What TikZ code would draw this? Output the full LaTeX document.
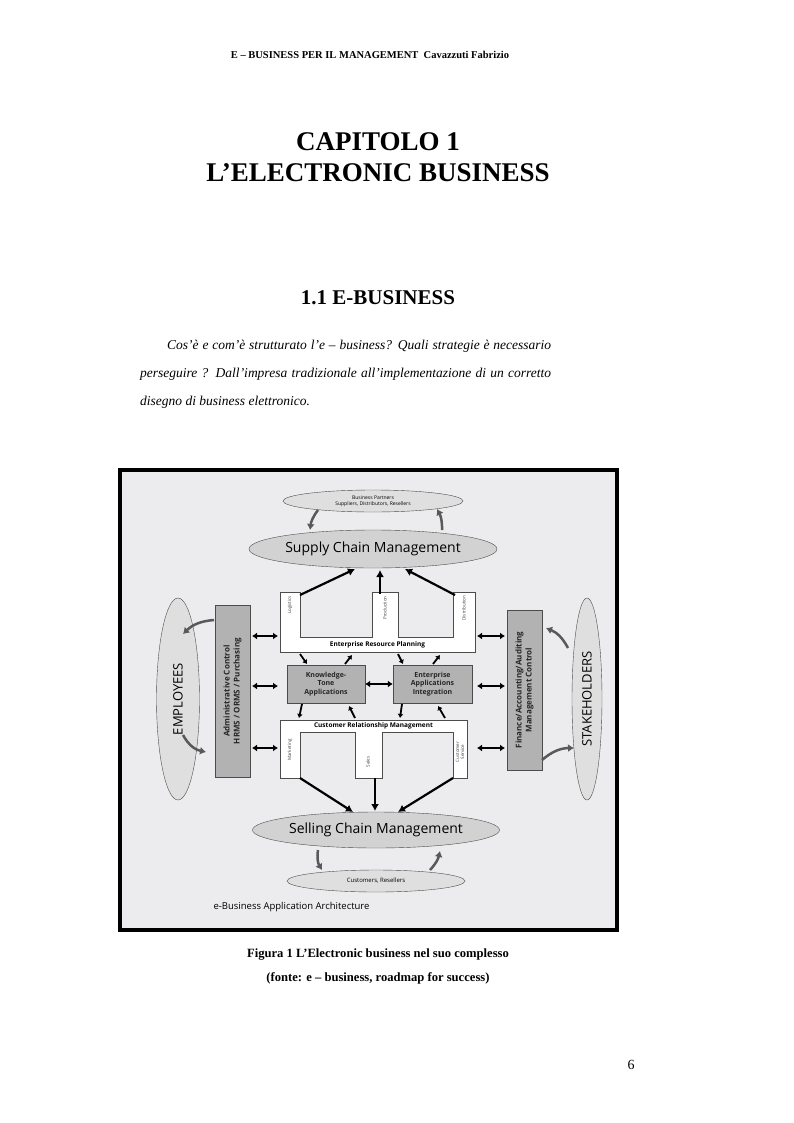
\documentclass[tikz,border=0pt]{standalone}
\usepackage{fontspec}
\setmainfont{Liberation Serif}
\newfontfamily\dgf{Open Sans}
\usetikzlibrary{arrows.meta,shapes.geometric}
\begin{document}
\begin{tikzpicture}[x=1pt,y=-1pt,
 fat/.style={line width=2.2pt,-{Latex[length=7pt,width=8pt]}},
 dbl/.style={line width=2.2pt,{Latex[length=5pt,width=7pt]}-{Latex[length=5pt,width=7pt]}},
 smarr/.style={line width=1.8pt,-{Latex[length=4pt,width=6pt]}},
 curv/.style={line width=2.5pt,draw=gray!70!black,-{Latex[length=6pt,width=8pt]}},
 ell/.style={ellipse,draw=gray!60!black,fill=gray!35,inner sep=0pt},
 gbox/.style={draw=gray!60!black,fill=gray!60,inner sep=0pt},
 btxt/.style={align=center,font=\dgf\bfseries\fontsize{7}{8.5}\selectfont,text=black!85},
 stxt/.style={align=center,font=\dgf\bfseries\fontsize{8}{10}\selectfont,text=black!85},
 lbl/.style={font=\dgf\fontsize{4.5}{5}\selectfont,rotate=90,text=gray!50!black,align=center}]
\useasboundingbox (0,0) rectangle (793,1123);
\fill[white] (0,0) rectangle (793,1123);
% page text
\node (hdr) at (370,55) {\fontsize{10.5}{12}\selectfont\bfseries E – BUSINESS PER IL MANAGEMENT\ \ Cavazzuti Fabrizio};
\node (t1) at (378,142) {\fontsize{27}{30}\selectfont\bfseries CAPITOLO 1};
\node (t2) at (378,173) {\fontsize{27}{30}\selectfont\bfseries L’ELECTRONIC BUSINESS};
\node (sec) at (378,298) {\fontsize{21}{24}\selectfont\bfseries 1.1 E-BUSINESS};
\node[anchor=north west,inner sep=0pt] (body) at (140,340) {\parbox{411pt}{\fontsize{13.5}{28}\selectfont\itshape\parindent=27pt
Cos’è e com’è strutturato l’e – business? Quali strategie è necessario perseguire ? Dall’impresa tradizionale all’implementazione di un corretto disegno di business elettronico.}};
\node (c1) at (378,955) {\fontsize{12.6}{14}\selectfont\bfseries Figura 1 L’Electronic business nel suo complesso};
\node (c2) at (378,978) {\fontsize{12.6}{14}\selectfont\bfseries (fonte: e – business, roadmap for success)};
\node (pn) at (631,1065) {\fontsize{14}{16}\selectfont 6};
% figure frame
\draw[line width=4pt,fill=blue!6!gray!14] (120,470) rectangle (617,930);
% ellipses
\node[ell,minimum width=180,minimum height=22,fill=gray!25,align=center,font=\dgf\fontsize{5}{6}\selectfont] (bp) at (373,501) {Business Partners\\Suppliers, Distributors, Resellers};
\node[ell,minimum width=240,minimum height=38] (scm) at (373,549) {\dgf\fontsize{14}{16}\selectfont Supply Chain Management};
\node[ell,minimum width=247,minimum height=36] (sel) at (376,830) {\dgf\fontsize{14}{16}\selectfont Selling Chain Management};
\node[ell,minimum width=178,minimum height=22,fill=gray!25] (cus) at (376,881) {\dgf\fontsize{6}{7}\selectfont Customers, Resellers};
\node[ell,minimum width=43,minimum height=202,fill=gray!25] (emp) at (178,699) {};
\node[rotate=90] (empt) at (emp.center) {\dgf\fontsize{13}{15}\selectfont EMPLOYEES};
\node[ell,minimum width=30,minimum height=202,fill=gray!25] (stk) at (587,699) {};
\node[rotate=90] (stkt) at (stk.center) {\dgf\fontsize{13}{15}\selectfont STAKEHOLDERS};
% side boxes
\node[gbox,minimum width=35,minimum height=172] (adm) at (232.5,691) {};
\node[stxt,rotate=90] (admt) at (adm.center) {Administrative Control\\HRMS / ORMS / Purchasing};
\node[gbox,minimum width=35,minimum height=160] (fin) at (524.5,690) {};
\node[stxt,rotate=90] (fint) at (fin.center) {Finance/Accounting/Auditing\\Management Control};
\node[gbox,btxt,minimum width=78,minimum height=38] (kta) at (326,684) {Knowledge-\\Tone\\Applications};
\node[gbox,btxt,minimum width=79,minimum height=38] (eai) at (432.5,684) {Enterprise\\Applications\\Integration};
% ERP shape
\draw[fill=white,draw=gray!60!black] (280,592)--(300,592)--(300,637)--(372,637)--(372,592)--(398,592)--(398,637)--(453,637)--(453,592)--(475,592)--(475,652)--(280,652)--cycle;
\node (erp) at (377.5,645) {\dgf\bfseries\fontsize{6.5}{7}\selectfont Enterprise Resource Planning};
\node[lbl] (log) at (290,605) {Logistics};
\node[lbl] (pro) at (385,608) {Production};
\node[lbl] (dis) at (464,608) {Distribution};
% CRM shape
\draw[fill=white,draw=gray!60!black] (280,720)--(467,720)--(467,778)--(453,778)--(453,732)--(382,732)--(382,778)--(355,778)--(355,732)--(300,732)--(300,778)--(280,778)--cycle;
\node (crm) at (373.5,726) {\dgf\bfseries\fontsize{6.5}{7}\selectfont Customer Relationship Management};
\node[lbl] (mkt) at (290,750) {Marketing};
\node[lbl] (sal) at (368,762) {Sales};
\node[lbl] (csv) at (460,752) {Customer\\Service};
% coordinates
\coordinate (e1) at (300,595); \coordinate (e2) at (380,594); \coordinate (e3) at (455,595);
\coordinate (r1) at (300,778); \coordinate (r2) at (375,778); \coordinate (r3) at (453,778);
\draw[fat] (e1) -- (355,569);
\draw[fat] (e2) -- (380,570);
\draw[fat] (e3) -- (405,569);
\draw[fat] (r1) -- (353,812);
\draw[fat] (r2) -- (375,811);
\draw[fat] (r3) -- (398,812);
% double arrows
\foreach \y in {636,686,748}{\draw[dbl] (252,\y) -- (278,\y); \draw[dbl] (477,\y) -- (505,\y);}
\draw[dbl] (kta.east) -- (eai.west);
% small arrows
\draw[smarr] (300,654) -- (307,664);
\draw[smarr] (345,664) -- (352,655);
\draw[smarr] (398,654) -- (403,664);
\draw[smarr] (433,664) -- (440,655);
\draw[smarr] (302,704) -- (299,718);
\draw[smarr] (355,718) -- (349,706);
\draw[smarr] (402,704) -- (400,718);
\draw[smarr] (445,718) -- (438,706);
% curved arrows
\draw[curv] (318,510) to[bend right=15] (310,530);
\draw[curv] (442,530) to[bend right=15] (437,509);
\draw[curv] (318,850) to[bend right=20] (322,870);
\draw[curv] (430,870) to[bend right=15] (440,851);
\draw[curv] (214,620) to[bend right=20] (183,634);
\draw[curv] (183,735) to[bend right=25] (206,752);
\draw[curv] (568,648) to[bend right=20] (546,628);
\draw[curv] (542,760) to[bend left=20] (574,748);
\node[anchor=west] (cap) at (210,907) {\dgf\fontsize{9.5}{11}\selectfont e-Business Application Architecture};
\end{tikzpicture}
\end{document}
